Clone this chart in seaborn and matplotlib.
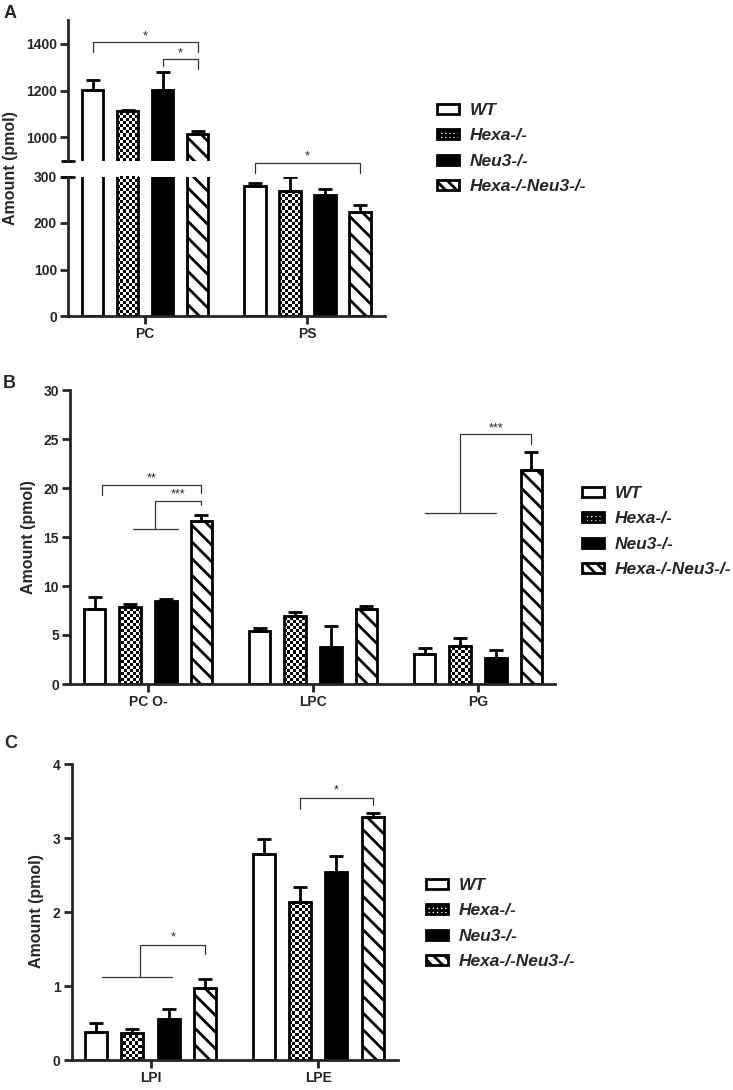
import numpy as np
import pandas as pd
import matplotlib
matplotlib.use("Agg")
import matplotlib.pyplot as plt
from matplotlib.patches import Patch
import seaborn as sns

# genotypes (hue) and per-panel data, rows follow `genotypes`
genotypes = ["WT", "Hexa-/-", "Neu3-/-", "Hexa-/-Neu3-/-"]

a_classes = ["PC", "PS"]
a_mean = [[1203, 279], [1113, 268], [1203, 260], [1015, 223]]
a_err = [[40, 6], [5, 30], [74, 13], [12, 15]]

b_classes = ["PC O-", "LPC", "PG"]
b_mean = [[7.62, 5.41, 3.03], [7.83, 6.90, 3.88], [8.47, 3.74, 2.69], [16.6, 7.69, 21.8]]
b_err = [[1.23, 0.34, 0.67], [0.30, 0.40, 0.78], [0.20, 2.21, 0.78], [0.60, 0.31, 1.90]]

c_classes = ["LPI", "LPE"]
c_mean = [[0.38, 2.79], [0.37, 2.14], [0.55, 2.54], [0.98, 3.29]]
c_err = [[0.12, 0.20], [0.05, 0.20], [0.14, 0.22], [0.12, 0.05]]

colors = ["white", "white", "black", "white"]

sns.set_style("white")
plt.rcParams["font.family"] = ["Liberation Sans", "DejaVu Sans"]
plt.rcParams["hatch.linewidth"] = 2.0
plt.rcParams["hatch.color"] = "black"

W, H = 733, 1090
fig = plt.figure(figsize=(W / 100, H / 100), dpi=100)


def box(x0, y0, x1, y1):
    # pixel box (top-left origin) -> figure fraction rect
    return [x0 / W, 1 - y1 / H, (x1 - x0) / W, (y1 - y0) / H]


def to_long(classes, means):
    rows = []
    for g, vals in zip(genotypes, means):
        for c, v in zip(classes, vals):
            rows.append({"lipid": c, "genotype": g, "amount": v})
    return pd.DataFrame(rows)


def checker(ax, bars, cell=3):
    bb = ax.get_window_extent()
    ny, nx = int(bb.height / cell), int(bb.width / cell)
    board = np.indices((ny, nx)).sum(axis=0) % 2
    x0, x1 = ax.get_xlim()
    y0, y1 = ax.get_ylim()
    for bar in bars:
        bar.set_facecolor("none")
        im = ax.imshow(board, cmap="gray", vmin=0, vmax=1, extent=(x0, x1, y0, y1),
                       aspect="auto", interpolation="nearest", origin="lower", zorder=0.9)
        im.set_clip_path(bar)
    ax.set_xlim(x0, x1)
    ax.set_ylim(y0, y1)


def draw_bars(ax, classes, means, errs, xlim, ylim):
    df = to_long(classes, means)
    sns.barplot(data=df, x="lipid", y="amount", hue="genotype", order=classes,
                hue_order=genotypes, palette=colors, saturation=1, width=0.864, gap=0.39,
                edgecolor="black", linewidth=2, errorbar=None, legend=False, ax=ax)
    ax.set_xlim(*xlim)
    ax.set_ylim(*ylim)
    bar_sets = list(ax.containers)
    for i, cont in enumerate(bar_sets):
        xs = [b.get_x() + b.get_width() / 2 for b in cont]
        ys = [b.get_height() for b in cont]
        ax.errorbar(xs, ys, yerr=[np.zeros(len(xs)), errs[i]], fmt="none", ecolor="black",
                    elinewidth=2, capsize=5, capthick=2, zorder=2)
    for b in bar_sets[3]:
        b.set_hatch("\\\\")
    checker(ax, bar_sets[1])
    ax.set_xlabel("")
    ax.set_ylabel("")
    for s in ["top", "right"]:
        ax.spines[s].set_visible(False)
    for s in ["left", "bottom"]:
        ax.spines[s].set_linewidth(2)
    ax.tick_params(axis="both", direction="out", length=6, width=2, labelsize=10, pad=2,
                   left=True, bottom=True)
    for lab in ax.get_xticklabels() + ax.get_yticklabels():
        lab.set_fontweight("bold")
    return bar_sets


def center(bar_sets, g, c):
    b = bar_sets[g][c]
    return b.get_x() + b.get_width() / 2


def bracket(ax, x0, x1, y, yl, yr, star, ys):
    ax.plot([x0, x0, x1, x1], [yl, y, y, yr], color="#333333", lw=0.9, clip_on=False, zorder=3)
    ax.text((x0 + x1) / 2, ys, star, ha="center", va="center", fontsize=9, clip_on=False)


def group_bracket(ax, xa, xb, xm, y0, x1, y1, yr, star, ys):
    ax.plot([xa, xb], [y0, y0], color="#333333", lw=0.9, clip_on=False, zorder=3)
    ax.plot([xm, xm, x1, x1], [y0, y1, y1, yr], color="#333333", lw=0.9, clip_on=False, zorder=3)
    ax.text((xm + x1) / 2, ys, star, ha="center", va="center", fontsize=9, clip_on=False)


def legend_at(x, y):
    handles = [
        Patch(facecolor="white", edgecolor="black", linewidth=2, label=genotypes[0]),
        Patch(facecolor="white", edgecolor="black", linewidth=2, hatch="++++", label=genotypes[1]),
        Patch(facecolor="black", edgecolor="black", linewidth=2, label=genotypes[2]),
        Patch(facecolor="white", edgecolor="black", linewidth=2, hatch="\\\\\\", label=genotypes[3]),
    ]
    fig.legend(handles=handles, loc="upper left", bbox_to_anchor=(x / W, 1 - y / H),
               frameon=False, prop={"weight": "bold", "style": "italic", "size": 12.5},
               handlelength=1.27, handleheight=0.52, handletextpad=0.6, labelspacing=0.6,
               borderpad=0, borderaxespad=0)


# ---------------- panel A (broken y axis) ----------------
ax_top = fig.add_axes(box(68, 20, 385, 161))
ax_bot = fig.add_axes(box(68, 176.5, 385, 316))
a_xlim = (-0.475, 1.478)
top_bars = draw_bars(ax_top, a_classes, a_mean, a_err, a_xlim, (900, 1500))
bot_bars = draw_bars(ax_bot, a_classes, a_mean, a_err, a_xlim, (0, 300))
ax_top.set_yticks([1000, 1200, 1400])
ax_bot.set_yticks([0, 100, 200, 300])
ax_top.spines["bottom"].set_visible(False)
ax_top.tick_params(axis="x", bottom=False, labelbottom=False)
for lab in ax_top.get_yticklabels() + ax_bot.get_yticklabels():
    lab.set_fontweight("bold")
ax_top.plot([-0.018, 0.018], [0, 0], transform=ax_top.transAxes, color="black", lw=2,
            clip_on=False)
ax_bot.plot([-0.018, 0.018], [1, 1], transform=ax_bot.transAxes, color="black", lw=2,
            clip_on=False)

bracket(ax_top, center(top_bars, 0, 0), center(top_bars, 3, 0), 1406, 1363, 1363, "*", 1431)
bracket(ax_top, center(top_bars, 2, 0), center(top_bars, 3, 0), 1336, 1303, 1293, "*", 1358)
bracket(ax_bot, center(bot_bars, 0, 1), center(bot_bars, 3, 1), 329, 308, 308, "*", 343)
legend_at(437, 103)

# ---------------- panel B ----------------
ax_b = fig.add_axes(box(70, 390, 555, 684))
b_bars = draw_bars(ax_b, b_classes, b_mean, b_err, (-0.473, 2.467), (0, 30))
ax_b.set_yticks(range(0, 31, 5))
for lab in ax_b.get_yticklabels():
    lab.set_fontweight("bold")
bracket(ax_b, -0.28, center(b_bars, 3, 0), 20.3, 19.3, 19.5, "**", 21.0)
group_bracket(ax_b, -0.09, 0.18, 0.045, 15.8, center(b_bars, 3, 0), 18.7, 18.3, "***", 19.3)
group_bracket(ax_b, center(b_bars, 0, 2), center(b_bars, 2, 2), center(b_bars, 1, 2), 17.4,
              center(b_bars, 3, 2), 25.5, 24.5, "***", 26.1)
legend_at(582, 486)

# ---------------- panel C ----------------
ax_c = fig.add_axes(box(71.7, 764.3, 398, 1060))
c_bars = draw_bars(ax_c, c_classes, c_mean, c_err, (-0.47, 1.475), (0, 4))
ax_c.set_yticks(range(0, 5))
for lab in ax_c.get_yticklabels():
    lab.set_fontweight("bold")
group_bracket(ax_c, -0.292, 0.125, -0.06, 1.125, center(c_bars, 3, 0), 1.56, 1.43, "*", 1.66)
bracket(ax_c, center(c_bars, 1, 1), center(c_bars, 3, 1), 3.54, 3.40, 3.45, "*", 3.65)
legend_at(426, 878)

# labels
for x, y in [(11, 168), (28, 537), (37, 911)]:
    fig.text(x / W, 1 - y / H, "Amount (pmol)", rotation=90, ha="center", va="center",
             fontsize=11.5, fontweight="bold")
for t, x, y in [("A", 4, 13), ("B", 3, 383), ("C", 4, 743)]:
    fig.text(x / W, 1 - y / H, t, ha="left", va="center", fontsize=13, fontweight="bold")

fig.savefig("out.png", dpi=100)
